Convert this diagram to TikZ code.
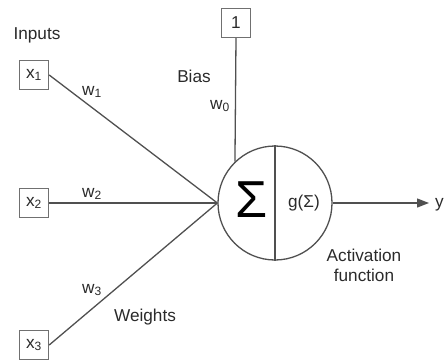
\documentclass[tikz,border=0pt]{standalone}
\usepackage{fontspec}
\setmainfont{Liberation Sans}
\usepackage{xcolor}
\usetikzlibrary{arrows.meta}

\definecolor{linegray}{HTML}{505050}
\definecolor{boxgray}{HTML}{707070}
\definecolor{textgray}{HTML}{2A2A2A}

\begin{document}
\begin{tikzpicture}[x=1pt,y=-1pt,font=\fontsize{17.2}{20}\selectfont,text=textgray]
\useasboundingbox (0,0) rectangle (447,359);

\begin{scope}[every node/.style={rectangle,draw=boxgray,line width=1.4pt,minimum size=29pt,inner sep=0pt}]
    \node (x1) at (34,75) {x\textsubscript{1}};
    \node (x2) at (34,203) {x\textsubscript{2}};
    \node (x3) at (34,345) {x\textsubscript{3}};
    \node (one) at (236,23) {1};
    \end{scope}

\node[circle,draw=linegray,line width=1.3pt,minimum size=114pt,inner sep=0pt] (neuron) at (275,203) {};
\draw[linegray,line width=1.3pt] (neuron.north) -- (neuron.south);
\node[text=black] (sum) at (252,200) {\fontsize{52}{52}\selectfont Σ};
\node (act) at (304,203) {g(Σ)};
\coordinate (out) at (429,203);

\begin{scope}[>={Triangle[length=12pt,width=9pt,linegray]},
              every edge/.style={draw=linegray,line width=1.3pt}]
    \path (x1.east) edge (neuron.west);
    \path (x2.east) edge (neuron.west);
    \path (x3.east) edge (neuron.west);
    \path (one.south) edge (neuron.134);
    \path [->] (neuron.east) edge (out);
    \end{scope}

\begin{scope}[every node/.style={inner sep=0pt}]
    \node (inputs) at (37,35) {Inputs};
    \node (bias) at (194,76) {Bias};
    \node (w0) at (220,106) {w\textsubscript{0}};
    \node (w1) at (92,92) {w\textsubscript{1}};
    \node (w2) at (92,194) {w\textsubscript{2}};
    \node (w3) at (92,290) {w\textsubscript{3}};
    \node (weights) at (145,317) {Weights};
    \node[align=center] (actlabel) at (364,265) {Activation\\function};
    \node[anchor=west] (y) at (435,205) {y};
    \end{scope}

\end{tikzpicture}
\end{document}
